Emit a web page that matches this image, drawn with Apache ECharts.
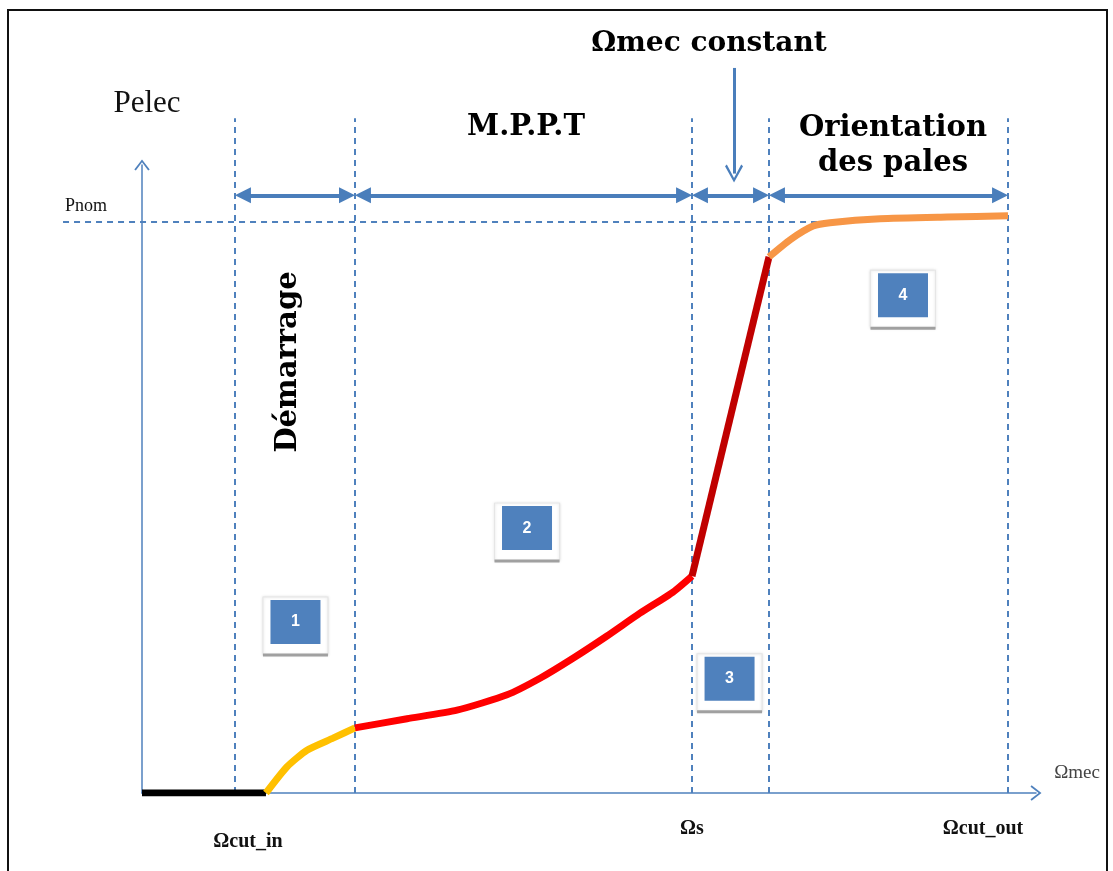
<!DOCTYPE html>
<html>
<head>
<meta charset="utf-8">
<script src="https://cdn.jsdelivr.net/npm/echarts@6/dist/echarts.min.js"></script>
<style>
  html, body { margin: 0; padding: 0; background: #fff; }
  #chart { width: 1113px; height: 871px; }
</style>
</head>
<body>
<div id="chart"></div>
<script>
// limites des zones (Ωmec, unités arbitraires)
const zoneBounds = [0.936, 2.144, 5.537, 6.312, 8.718];
const pNom = 1.0;

// courbe Pelec(Ωmec) par morceaux
const stopCurve = [[0, 0], [1.248, 0]];
const startCurve = [[1.248, 0], [1.46, 0.046], [1.661, 0.075], [1.923, 0.096], [2.144, 0.114]];
const mpptCurve = [[2.144, 0.114], [2.668, 0.13], [3.171, 0.145], [3.675, 0.172], [4.007, 0.201],
  [4.339, 0.236], [4.681, 0.275], [5.013, 0.315], [5.346, 0.352], [5.537, 0.38]];
const constCurve = [[5.537, 0.38], [6.312, 0.939]];
const pitchCurve = [[6.312, 0.939], [6.524, 0.969], [6.755, 0.993], [6.926, 0.999], [7.43, 1.006],
  [8.104, 1.009], [8.718, 1.011]];

const zoneNumbers = ['1', '2', '3', '4'];
const xTickLabels = ['Ωcut_in', 'Ωs', 'Ωcut_out'];

const BLUE = '#4F81BD';
const CHEVRON = 'path://M0,9 L7,0 L14,9 L12.6,10 L7,2.6 L1.4,10 Z';
const HEAD_INSET = 0.08; // demi-longueur des pointes de flèche, en unités de Ωmec

const chart = echarts.init(document.getElementById('chart'), null, { renderer: 'canvas' });

// positions des repères numérotés et des textes (coordonnées du graphe)
const boxPos = [[1.545, 0.2995], [3.876, 0.464], [5.915, 0.2], [7.661, 0.872]];
const tickPos = [[1.067, -0.086], [5.537, -0.063], [8.467, -0.063]];

const serif = 'Liberation Serif';
const heavy = { fontFamily: 'DejaVu Serif', fontWeight: 'bold', fontSize: 29, color: '#000' };

function textItem(text, pos, style) {
  return { value: pos, label: Object.assign({ show: true, position: 'inside', formatter: text }, style) };
}

const texts = [
  textItem('Pelec', [0.05, 1.207], { fontFamily: serif, fontSize: 31, color: '#111' }),
  textItem('Pnom', [-0.564, 1.028], { fontFamily: serif, fontSize: 18, color: '#111' }),
  textItem('Ωmec', [9.413, 0.035], { fontFamily: serif, fontSize: 19, color: '#444' }),
  textItem('Ωmec constant', [5.708, 1.312], Object.assign({}, heavy, { fontSize: 28 })),
  textItem('M.P.P.T', [3.866, 1.165], heavy),
  textItem('Orientation\ndes pales', [7.56, 1.134], Object.assign({ lineHeight: 35 }, heavy)),
  textItem('Démarrage', [1.47, 0.755], Object.assign({ rotate: 90 }, heavy))
].concat(xTickLabels.map((t, i) => textItem(t, tickPos[i],
  { fontFamily: serif, fontWeight: 'bold', fontSize: 20, color: '#111' })));

const dashed = { color: BLUE, width: 2, type: [6, 5], opacity: 1 };

function curve(data, color, smooth) {
  return {
    type: 'line', data, showSymbol: false, smooth, z: 5,
    lineStyle: { color, width: 7, cap: 'butt' }, silent: true
  };
}

const option = {
  animation: false,
  grid: { left: 142, right: 77, top: 165, bottom: 78 },
  xAxis: {
    type: 'value', min: 0, max: 9,
    axisLine: { show: true, onZero: false, symbol: ['none', CHEVRON], symbolSize: [16, 11],
      lineStyle: { color: BLUE, width: 1.5 } },
    axisTick: { show: false }, axisLabel: { show: false }, splitLine: { show: false }
  },
  yAxis: {
    type: 'value', min: 0, max: 1.1,
    axisLine: { show: true, onZero: false, symbol: ['none', CHEVRON], symbolSize: [16, 11],
      lineStyle: { color: BLUE, width: 1.5 } },
    axisTick: { show: false }, axisLabel: { show: false }, splitLine: { show: false }
  },
  graphic: [{
    type: 'rect', shape: { x: 8, y: 10, width: 1099, height: 880 },
    style: { fill: 'none', stroke: '#111', lineWidth: 2 }, silent: true
  }],
  series: [
    {
      type: 'lines', coordinateSystem: 'cartesian2d', clip: false, z: 1,
      lineStyle: dashed, symbol: 'none',
      data: zoneBounds.map(b => ({ coords: [[b, 0], [b, 1.182]] }))
        .concat([{ coords: [[-0.795, pNom], [7.0, pNom]] }])
    },
    {
      type: 'lines', coordinateSystem: 'cartesian2d', clip: false, z: 3,
      lineStyle: { color: '#4A7EBB', width: 4, opacity: 1 }, symbol: ['triangle', 'triangle'],
      symbolSize: 16,
      data: zoneBounds.slice(0, -1).map((b, i) => ({
        coords: [[b + HEAD_INSET, 1.047], [zoneBounds[i + 1] - HEAD_INSET, 1.047]]
      }))
    },
    {
      type: 'lines', coordinateSystem: 'cartesian2d', clip: false, z: 3,
      lineStyle: { color: '#4A7EBB', width: 3, opacity: 1 }, symbol: ['none', CHEVRON], symbolSize: [1, 18],
      data: [{ coords: [[5.96, 1.27], [5.96, 1.085]] }]
    },
    curve(stopCurve, '#000', false),
    curve(startCurve, '#FFC000', 0.2),
    curve(mpptCurve, '#FF0000', 0.2),
    curve(constCurve, '#C00000', false),
    curve(pitchCurve, '#F79646', 0.2),
    {
      type: 'scatter', clip: false, z: 6, symbol: 'rect', symbolSize: [65, 58], symbolOffset: [0, 4],
      itemStyle: { color: '#fff', borderColor: '#e6e6e6', borderWidth: 1, opacity: 1,
        shadowBlur: 3, shadowColor: 'rgba(0,0,0,0.15)' },
      data: boxPos
    },
    {
      type: 'scatter', clip: false, z: 7, symbol: 'rect', symbolSize: [65, 3], symbolOffset: [0, 33],
      itemStyle: { color: '#A0A0A0', opacity: 1 },
      data: boxPos
    },
    {
      type: 'scatter', clip: false, z: 8, symbol: 'rect', symbolSize: [50, 44],
      itemStyle: { color: BLUE, opacity: 1 },
      label: { show: true, position: 'inside', color: '#fff', fontFamily: 'Liberation Sans',
        fontWeight: 'bold', fontSize: 16, formatter: p => zoneNumbers[p.dataIndex] },
      data: boxPos
    },
    {
      type: 'scatter', clip: false, z: 9, symbolSize: 0, itemStyle: { opacity: 1 }, data: texts
    }
  ]
};

chart.setOption(option);
</script>
</body>
</html>
